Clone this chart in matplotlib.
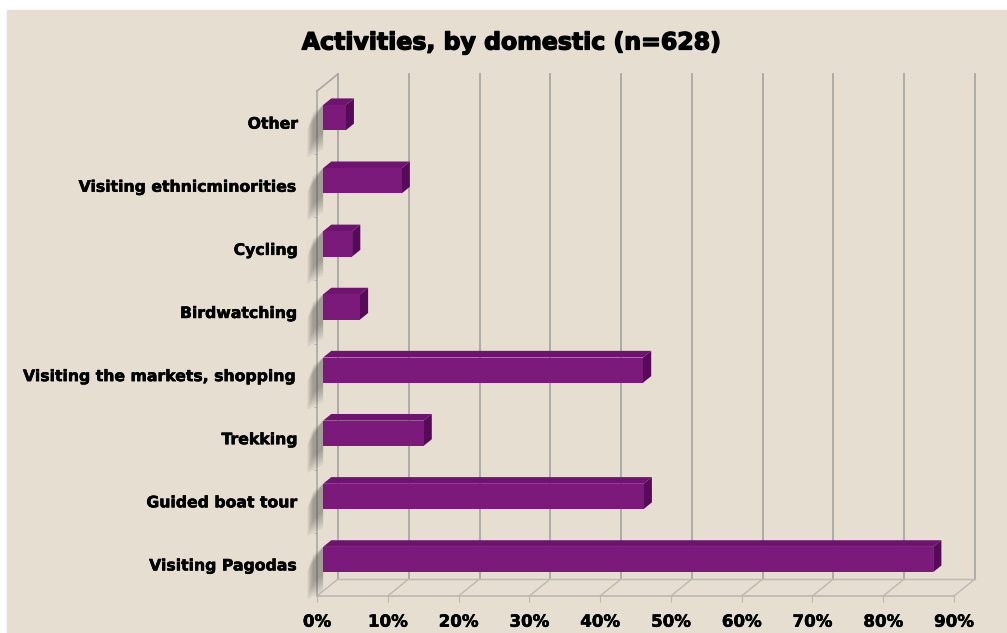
import matplotlib
matplotlib.use('Agg')
from matplotlib import pyplot as plt
from matplotlib import patheffects as pe
from matplotlib.patches import Rectangle, Polygon

# data (percent of respondents)
categories = ['Visiting Pagodas', 'Guided boat tour', 'Trekking', 'Visiting the markets, shopping',
              'Birdwatching', 'Cycling', 'Visiting ethnicminorities', 'Other']
values = [86.2, 45.3, 14.2, 45.2, 5.2, 4.1, 11.1, 3.2]
xticks = [0, 10, 20, 30, 40, 50, 60, 70, 80, 90]
xlabels = ['0%', '10%', '20%', '30%', '40%', '50%', '60%', '70%', '80%', '90%']
title = 'Activities, by domestic (n=628)'

# colours
bg = '#e6ded1'
grid_c = '#aaa7a3'
floor_c = '#bbb7b2'
front_c = '#7b1a7b'
top_c = '#6e136f'
side_c = '#580a5a'

# fake 3d depth (data units)
DX, DY = 2.97, 0.27
z0, z1 = 0.29, 0.68
h = 0.2
xmax = 90

fig = plt.figure(figsize=(10.07, 6.33), dpi=100, facecolor='white')
fig.patches.append(Rectangle((7 / 1007, 0), 1, 623 / 633, transform=fig.transFigure,
                             color=bg, zorder=-10))
ax = fig.add_axes([317 / 1007, 37 / 633, 658 / 1007, 522 / 633])
ax.set_facecolor('none')
ax.set_xlim(0, xmax + DX)
ax.set_ylim(-0.5, 7.5 + DY)
for s in ax.spines.values():
    s.set_visible(False)

# back wall grid
for v in xticks:
    ax.plot([v + DX, v + DX], [-0.5 + DY, 7.5 + DY], color=grid_c, lw=1.3, zorder=1, clip_on=False)
    ax.plot([v, v + DX], [-0.5, -0.5 + DY], color=floor_c, lw=1.0, zorder=1, clip_on=False)
ax.plot([0, xmax], [-0.5, -0.5], color=floor_c, lw=1.2, zorder=1, clip_on=False)
ax.plot([DX, xmax + DX], [-0.5 + DY, -0.5 + DY], color=floor_c, lw=1.0, zorder=1, clip_on=False)
# left wall
ax.plot([0, 0], [-0.5, 7.5], color=grid_c, lw=1.2, zorder=1, clip_on=False)
ax.plot([0, DX], [7.5, 7.5 + DY], color=grid_c, lw=1.2, zorder=1, clip_on=False)

# bars
for i, v in enumerate(values):
    # soft shadow on the left wall
    for k in range(6):
        e = 0.05 * k
        ax.add_patch(Polygon([(-0.6 - e * 3, i - h - 0.1 - e), (z0 * DX, i - h + z0 * DY - 0.05 - e),
                              (z0 * DX, i + h + z0 * DY), (-0.6 - e * 3, i + h - 0.05 - e)],
                             closed=True, color='#3c3c3c', alpha=0.08, lw=0, zorder=2, clip_on=False))
    ax.barh(i + z0 * DY, v, height=2 * h, left=z0 * DX, color=front_c, zorder=4)
    ax.add_patch(Polygon([(z0 * DX, i + h + z0 * DY), (z0 * DX + v, i + h + z0 * DY),
                          (z1 * DX + v, i + h + z1 * DY), (z1 * DX, i + h + z1 * DY)],
                         closed=True, color=top_c, lw=0, zorder=3))
    ax.add_patch(Polygon([(z0 * DX + v, i - h + z0 * DY), (z0 * DX + v, i + h + z0 * DY),
                          (z1 * DX + v, i + h + z1 * DY), (z1 * DX + v, i - h + z1 * DY)],
                         closed=True, color=side_c, lw=0, zorder=3))

thick = [pe.withStroke(linewidth=0.4, foreground='black')]
ax.set_yticks(range(len(categories)))
ax.set_yticklabels(categories, fontsize=11.3, fontweight='bold', path_effects=thick)
ax.set_yticks([i + 0.5 for i in range(len(categories) - 1)], minor=True)
ax.tick_params(axis='y', which='major', length=0, pad=13.5)
ax.tick_params(axis='y', which='minor', length=2, color=grid_c)
ax.set_xticks(xticks)
ax.set_xticklabels(xlabels, fontsize=12, fontweight='bold', path_effects=thick)
ax.tick_params(axis='x', length=4, color=floor_c, pad=8)
for t in ax.get_xticklines():
    t.set_clip_on(False)

fig.text(0.508, 0.933, title, ha='center', va='center', fontsize=17, fontweight='heavy',
         path_effects=[pe.withStroke(linewidth=1.0, foreground='black')])

plt.savefig('out.png', dpi=100)
